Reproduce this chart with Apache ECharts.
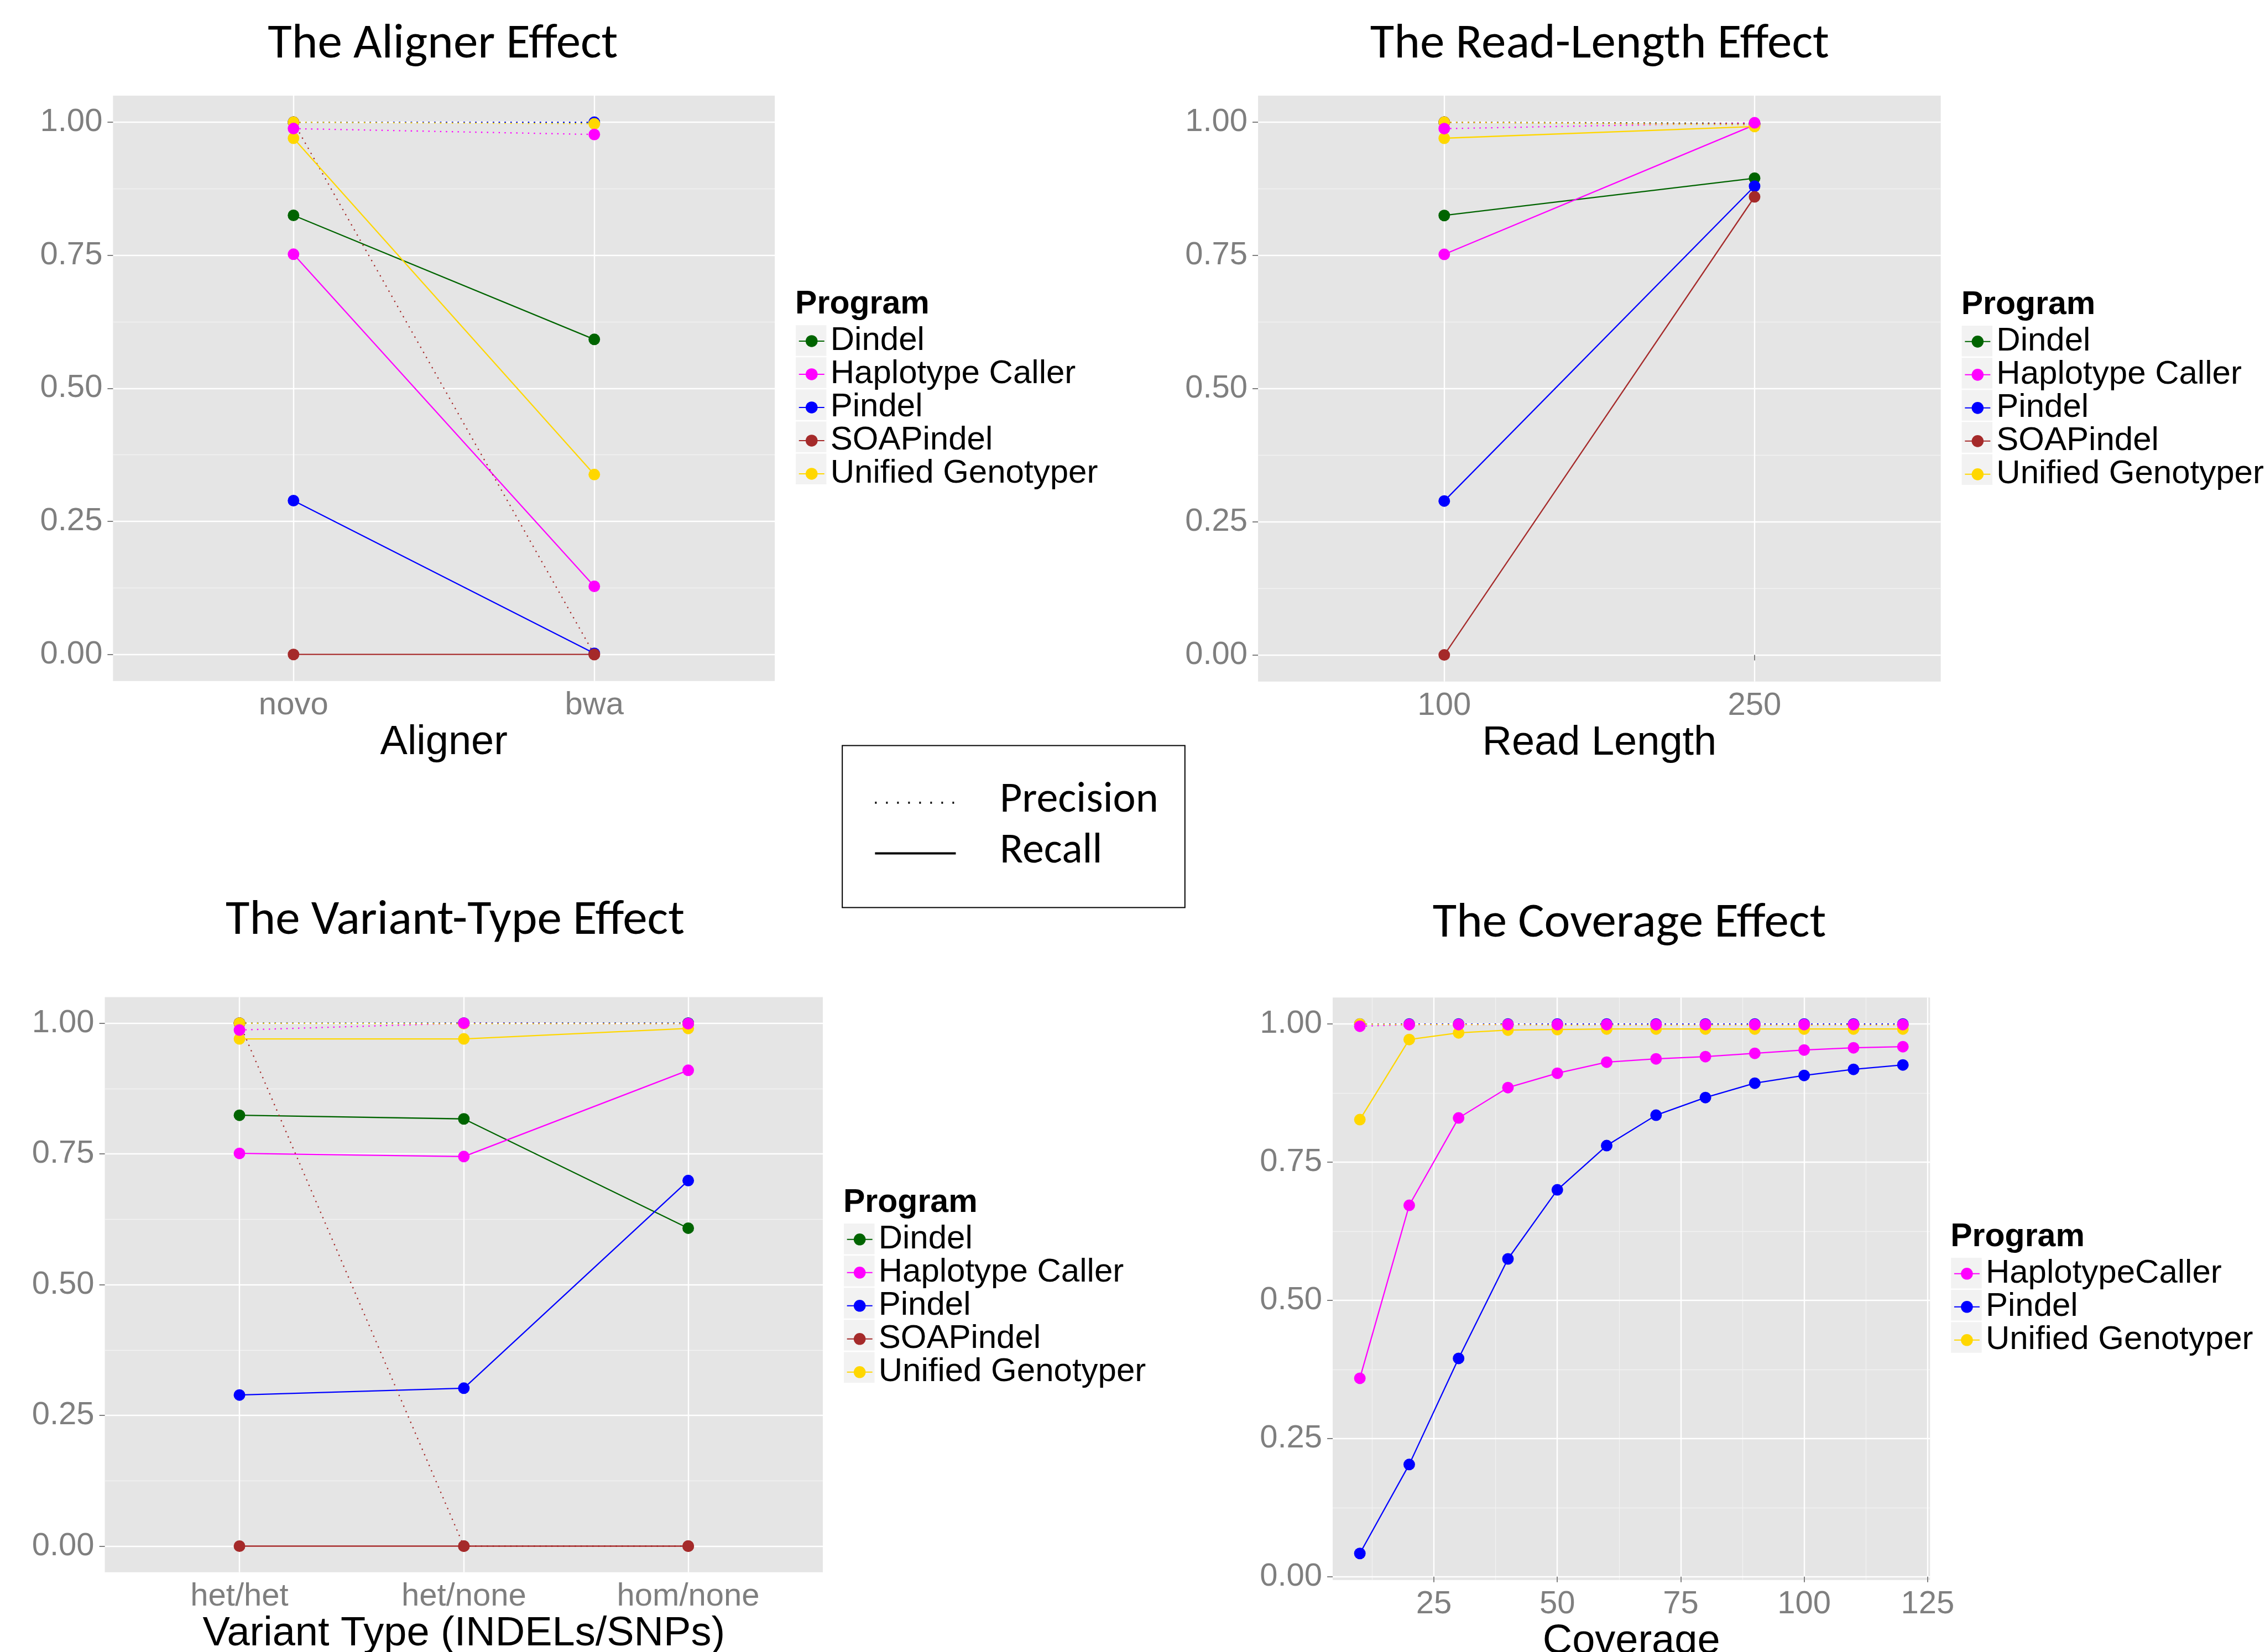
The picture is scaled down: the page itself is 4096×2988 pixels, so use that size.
<!DOCTYPE html>
<html><head><meta charset="utf-8">
<script src="https://cdn.jsdelivr.net/npm/echarts@6/dist/echarts.min.js"></script>
<style>html,body{margin:0;padding:0;background:#fff}#c{width:4096px;height:2988px}</style>
</head><body><div id="c"></div>
<script>
// ---------------- data ----------------
const programs = ['Dindel', 'Haplotype Caller', 'Pindel', 'SOAPindel', 'Unified Genotyper'];
const programColors = ['#006400', '#FF00FF', '#0000FF', '#A52A2A', '#FFD700'];

const alignerCategories = ['novo', 'bwa'];
const alignerRecall = [[0.825, 0.592], [0.752, 0.128], [0.289, 0.002], [0.0, 0.0], [0.970, 0.338]];
const alignerPrecision = [[1.0, 0.999], [0.988, 0.977], [1.0, 1.0], [1.0, 0.0], [1.0, 0.997]];

const readLengthCategories = ['100', '250'];
const readLengthRecall = [[0.825, 0.895], [0.752, 0.995], [0.289, 0.880], [0.0, 0.860], [0.970, 0.992]];
const readLengthPrecision = [[1.0, 0.998], [0.988, 0.999], [1.0, 0.996], [1.0, 0.997], [1.0, 0.995]];

const variantCategories = ['het/het', 'het/none', 'hom/none'];
const variantRecall = [[0.824, 0.817, 0.608], [0.751, 0.745, 0.910], [0.289, 0.302, 0.699], [0.0, 0.0, 0.0], [0.970, 0.970, 0.990]];
const variantPrecision = [[1.0, 1.0, 1.0], [0.987, 1.0, 0.999], [1.0, 1.0, 1.0], [1.0, 0.0, 0.0], [1.0, 0.999, 0.999]];

const coveragePrograms = ['HaplotypeCaller', 'Pindel', 'Unified Genotyper'];
const coverageColors = ['#FF00FF', '#0000FF', '#FFD700'];
const coverageValues = [10, 20, 30, 40, 50, 60, 70, 80, 90, 100, 110, 120];
const coverageRecall = [
  [0.359, 0.672, 0.830, 0.885, 0.911, 0.931, 0.937, 0.941, 0.947, 0.953, 0.957, 0.959],
  [0.042, 0.203, 0.395, 0.575, 0.700, 0.780, 0.835, 0.867, 0.893, 0.907, 0.918, 0.926],
  [0.827, 0.972, 0.984, 0.989, 0.990, 0.991, 0.991, 0.991, 0.991, 0.991, 0.991, 0.991]
];
const coveragePrecision = [
  [0.996, 0.999, 0.999, 0.999, 0.999, 0.999, 0.999, 0.999, 0.999, 0.999, 0.999, 0.999],
  [1.0, 1.0, 1.0, 1.0, 1.0, 1.0, 1.0, 1.0, 1.0, 1.0, 1.0, 1.0],
  [1.0, 0.999, 0.999, 0.999, 0.998, 0.998, 0.998, 0.998, 0.998, 0.998, 0.998, 0.998]
];

const yTicks = [0, 0.25, 0.5, 0.75, 1];
const yMinorTicks = [0.125, 0.375, 0.625, 0.875];
const coverageTicks = [25, 50, 75, 100, 125];
const coverageMinorTicks = [12.5, 37.5, 62.5, 87.5, 112.5];

const panelTitles = ['The Aligner Effect', 'The Read-Length Effect', 'The Variant-Type Effect', 'The Coverage Effect'];
const axisTitles = ['Aligner', 'Read Length', 'Variant Type (INDELs/SNPs)', 'Coverage'];
const legendTitle = 'Program';
const lineTypeLabels = ['Precision', 'Recall'];

// ---------------- layout (reference pixels, scaled by S) ----------------
const S = 4096 / 4429;
const FONT = '"Liberation Sans", Arial, Helvetica, sans-serif';
const TFONT = 'Carlito, Calibri, "Open Sans", sans-serif';
const TEXT_GREY = '#7F7F7F';

function discreteX(cats) {
  return { x: cats.map((c, j) => j + 1), min: 0.4, max: cats.length + 0.6, ticks: cats.map((c, j) => j + 1),
           minor: [], fmt: v => cats[Math.round(v) - 1] };
}
const panels = [
  { plot: [221, 187, 1515, 1332], title: [866, 88], keyLeft: 1556, keyTop: 636,
    names: programs, colors: programColors, recall: alignerRecall, precision: alignerPrecision,
    xs: discreteX(alignerCategories), yMin: -0.05, yMax: 1.05, topOrder: [0, 2, 3, 4, 1] },
  { plot: [2460, 187, 3795, 1333], title: [3128, 88], keyLeft: 3836, keyTop: 637,
    names: programs, colors: programColors, recall: readLengthRecall, precision: readLengthPrecision,
    xs: discreteX(readLengthCategories), yMin: -0.05, yMax: 1.05, topOrder: [0, 2, 3, 4, 1] },
  { plot: [205, 1950, 1609, 3075], title: [890, 1802], keyLeft: 1650, keyTop: 2393,
    names: programs, colors: programColors, recall: variantRecall, precision: variantPrecision,
    xs: discreteX(variantCategories), yMin: -0.05, yMax: 1.05, topOrder: [0, 2, 3, 4, 1] },
  { plot: [2606, 1951, 3774, 3090], title: [3186, 1808], keyLeft: 3815, keyTop: 2460,
    names: coveragePrograms, colors: coverageColors, recall: coverageRecall, precision: coveragePrecision,
    xs: { x: coverageValues, min: 4.5, max: 125.5, ticks: coverageTicks, minor: coverageMinorTicks, fmt: v => String(v) },
    yMin: -0.0059, yMax: 1.0479, topOrder: [1, 2, 0] }
];

const grid = [], xAxis = [], yAxis = [], series = [], legend = [], graphic = [];
const LW = 2.3, PT = 21;

panels.forEach((p, k) => {
  const [x0, y0, x1, y1] = p.plot;
  grid.push({ left: x0 * S, top: y0 * S, width: (x1 - x0) * S, height: (y1 - y0) * S,
              show: true, backgroundColor: '#E5E5E5', borderWidth: 0, containLabel: false, outerBoundsMode: 'none', z: 0 });
  // minor axes (index 2k), major axes (index 2k+1)
  xAxis.push({ type: 'value', gridIndex: k, position: 'bottom', offset: 0, min: p.xs.min, max: p.xs.max, z: 1,
               axisLine: { show: false }, axisTick: { show: false, customValues: p.xs.minor.length ? p.xs.minor : [-999] },
               axisLabel: { show: false, customValues: p.xs.minor.length ? p.xs.minor : [-999] },
               splitLine: { show: p.xs.minor.length > 0, lineStyle: { color: '#F2F2F2', width: 1.3 } } });
  xAxis.push({ type: 'value', gridIndex: k, position: 'bottom', offset: 0, min: p.xs.min, max: p.xs.max, z: 2,
               axisLine: { show: false },
               axisTick: { show: true, length: 10, lineStyle: { color: TEXT_GREY, width: 2 }, customValues: p.xs.ticks },
               axisLabel: { customValues: p.xs.ticks, formatter: p.xs.fmt, margin: 15, fontSize: 58, color: TEXT_GREY, fontFamily: FONT },
               splitLine: { show: true, lineStyle: { color: '#FFFFFF', width: 2.4 } },
               name: axisTitles[k], nameLocation: 'middle', nameGap: 75, nameMoveOverlap: false,
               nameTextStyle: { fontSize: 74, color: '#000', fontFamily: FONT } });
  yAxis.push({ type: 'value', gridIndex: k, position: 'left', offset: 0, min: p.yMin, max: p.yMax, z: 1,
               axisLine: { show: false }, axisTick: { show: false, customValues: yMinorTicks },
               axisLabel: { show: false, customValues: yMinorTicks },
               splitLine: { show: true, lineStyle: { color: '#F2F2F2', width: 1.3 } } });
  yAxis.push({ type: 'value', gridIndex: k, position: 'left', offset: 0, min: p.yMin, max: p.yMax, z: 2,
               axisLine: { show: false },
               axisTick: { show: true, length: 10, lineStyle: { color: TEXT_GREY, width: 2 }, customValues: yTicks },
               axisLabel: { customValues: yTicks, formatter: v => v.toFixed(2), margin: 19, fontSize: 58, color: TEXT_GREY, fontFamily: FONT },
               splitLine: { show: true, lineStyle: { color: '#FFFFFF', width: 2.4 } } });
  const xi = 2 * k + 1, yi = 2 * k + 1;
  const pts = arr => arr.map((v, j) => [p.xs.x[j], v]);
  // lines: recall (solid) first so the legend uses it
  p.names.forEach((name, i) => {
    series.push({ type: 'line', name, xAxisIndex: xi, yAxisIndex: yi, data: pts(p.recall[i]),
                  symbol: 'circle', showSymbol: false, silent: true, z: 3,
                  lineStyle: { color: p.colors[i], width: LW, type: 'solid' }, itemStyle: { color: p.colors[i] } });
    series.push({ type: 'line', name, xAxisIndex: xi, yAxisIndex: yi, data: pts(p.precision[i]),
                  symbol: 'circle', showSymbol: false, silent: true, z: 3,
                  lineStyle: { color: p.colors[i], width: LW, type: [2.4, 8.2] }, itemStyle: { color: p.colors[i] } });
  });
  p.names.forEach((name, i) => {
    series.push({ type: 'scatter', name, xAxisIndex: xi, yAxisIndex: yi, data: pts(p.recall[i]),
                  symbol: 'circle', symbolSize: PT, silent: true, z: 4, itemStyle: { color: p.colors[i], opacity: 1 } });
  });
  p.topOrder.forEach(i => {
    series.push({ type: 'scatter', name: p.names[i], xAxisIndex: xi, yAxisIndex: yi, data: pts(p.precision[i]),
                  symbol: 'circle', symbolSize: PT, silent: true, z: 4, itemStyle: { color: p.colors[i], opacity: 1 } });
  });
  // legend
  const pitch = 62.8;
  legend.push({ orient: 'vertical', left: (p.keyLeft + 30) * S - 23, top: (p.keyTop + 30) * S - 29,
                data: p.names, itemWidth: 46, itemHeight: 27, itemGap: 0, padding: 0, selectedMode: false,
                textStyle: { fontFamily: FONT, fontSize: 60, lineHeight: 58, color: '#000', padding: [0, 0, 0, 6] } });
  p.names.forEach((n, i) => {
    graphic.push({ type: 'rect', z: 0, silent: true,
                   shape: { x: p.keyLeft * S, y: (p.keyTop + i * pitch) * S, width: 60 * S, height: 60 * S },
                   style: { fill: '#F2F2F2' } });
  });
  graphic.push({ type: 'text', z: 5, silent: true, x: (p.keyLeft - 1) * S, y: (p.keyTop - 40) * S,
                 style: { text: legendTitle, font: 'bold ' + Math.round(64 * S) + 'px ' + FONT, fill: '#000',
                          align: 'left', verticalAlign: 'middle' } });
  graphic.push({ type: 'text', z: 5, silent: true, x: p.title[0] * S, y: p.title[1] * S,
                 style: { text: panelTitles[k], font: Math.round(96 * S) + 'px ' + TFONT, fill: '#000',
                          align: 'center', verticalAlign: 'middle' } });
});

// Precision / Recall key box
graphic.push({ type: 'rect', z: 5, silent: true, shape: { x: 1647 * S, y: 1458 * S, width: 670 * S, height: 317 * S },
               style: { fill: '#FFFFFF', stroke: '#000', lineWidth: 2 } });
graphic.push({ type: 'line', z: 5, silent: true, shape: { x1: 1711 * S, y1: 1570 * S, x2: 1866 * S, y2: 1570 * S },
               style: { stroke: '#000', lineWidth: 3.7, lineDash: [3, 17] } });
graphic.push({ type: 'line', z: 5, silent: true, shape: { x1: 1711 * S, y1: 1669 * S, x2: 1869 * S, y2: 1669 * S },
               style: { stroke: '#000', lineWidth: 4.2 } });
graphic.push({ type: 'text', z: 5, silent: true, x: 1955 * S, y: 1566 * S,
               style: { text: lineTypeLabels[0], font: Math.round(84 * S) + 'px ' + TFONT, fill: '#000', align: 'left', verticalAlign: 'middle' } });
graphic.push({ type: 'text', z: 5, silent: true, x: 1955 * S, y: 1666 * S,
               style: { text: lineTypeLabels[1], font: Math.round(84 * S) + 'px ' + TFONT, fill: '#000', align: 'left', verticalAlign: 'middle' } });

const chart = echarts.init(document.getElementById('c'), null, { renderer: 'canvas' });
chart.setOption({ animation: false, backgroundColor: '#FFFFFF', grid, xAxis, yAxis, series, legend, graphic });
</script></body></html>
